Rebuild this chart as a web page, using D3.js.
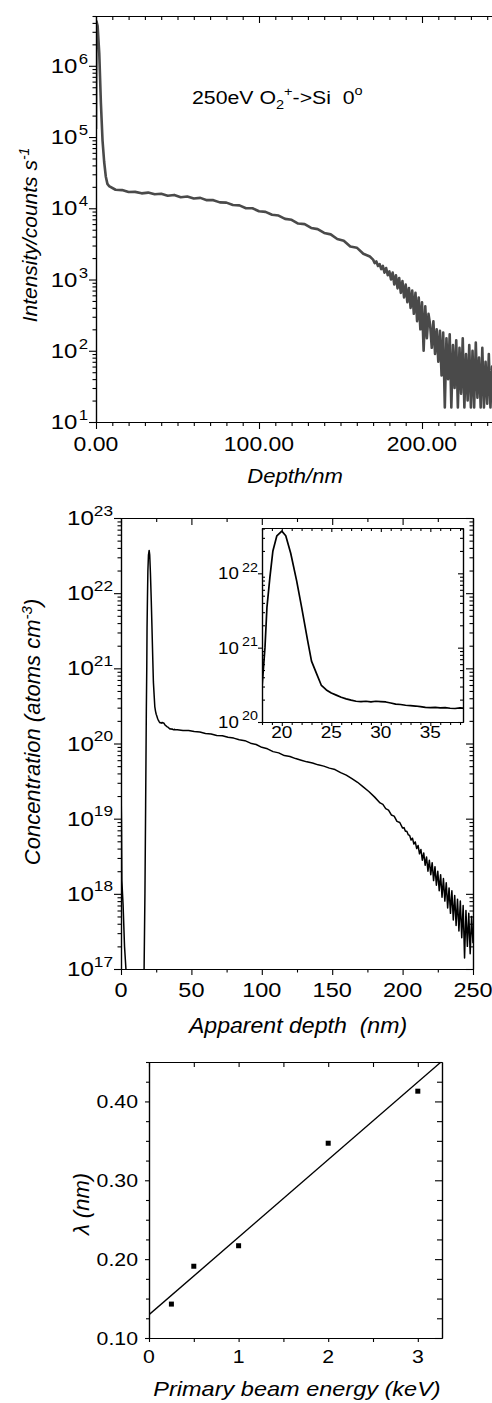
<!DOCTYPE html>
<html>
<head>
<meta charset="utf-8">
<script src="https://cdn.jsdelivr.net/npm/d3@7"></script>
<style>
  body { margin: 0; background: #fff; }
  svg { display: block; }
  text { font-family: "Liberation Sans", Arial, Helvetica, sans-serif; fill: #000; white-space: pre; }
</style>
</head>
<body>
<svg width="492" height="1403"></svg>
<script>
// ---- panel 1: 250 eV O2+ -> Si, intensity vs depth ----
var depth1 = [0, 0.3, 1, 2, 3, 4, 5, 6, 7, 8, 12, 16, 20, 24, 28, 32, 36, 40, 44, 48, 52, 56, 60, 64, 68, 72, 76, 80, 84, 88, 92, 96, 100,
  104, 108, 112, 116, 120, 124, 128, 132, 136, 140, 144, 148, 152, 156, 160, 164, 168,
  170, 171, 172, 173, 174, 175, 176, 177, 178, 179, 180, 181, 182, 183, 184, 185, 186, 187, 188, 189,
  190, 191, 192, 193, 194, 195, 196, 197, 198, 199, 200, 201, 202, 203, 204, 205, 206, 207, 208, 209,
  210, 211, 212, 213, 214, 215, 216, 217, 218, 219, 220, 221, 222, 223, 224, 225, 226, 227, 228, 229,
  230, 231, 232, 233, 234, 235, 236, 237, 238, 239, 240, 241, 242, 243, 244, 245];
var counts1 = [1.3e5, 4.2e6, 3.6e6, 1.5e6, 3e5, 9e4, 4.5e4, 2.8e4, 2.2e4, 2.05e4, 1.82e4, 1.8e4, 1.69e4, 1.7e4, 1.62e4, 1.66e4, 1.57e4, 1.6e4,
  1.5e4, 1.54e4, 1.43e4, 1.46e4, 1.37e4, 1.4e4, 1.3e4, 1.3e4, 1.21e4, 1.2e4, 1.11e4, 1.1e4, 1.0e4, 1.0e4, 9.1e3,
  8.9e3, 8.1e3, 7.9e3, 7.1e3, 6.9e3, 6.1e3, 6.0e3, 5.3e3, 5.1e3, 4.5e3, 4.3e3, 3.7e3, 3.5e3, 2.9e3, 2.8e3, 2.3e3, 2.1e3,
  1900, 1700, 1800, 1550, 1650, 1400, 1550, 1250, 1450, 1150, 1300, 1000, 1250, 850, 1150, 750, 1050, 650, 950, 560,
  850, 480, 760, 400, 700, 330, 650, 260, 560, 200, 480, 100, 420, 150, 330, 230, 110, 260, 90, 200,
  70, 190, 45, 180, 16, 150, 40, 170, 16, 120, 30, 140, 16, 110, 25, 150, 16, 90, 20, 120,
  16, 100, 16, 130, 22, 80, 16, 110, 16, 70, 18, 90, 16, 60, 16, 50];
var xMinor1 = [10, 20, 30, 40, 50, 60, 70, 80, 90, 110, 120, 130, 140, 150, 160, 170, 180, 190, 210, 220, 230, 240];
var xMajor1 = [0, 100, 200];

// ---- panel 2: concentration vs apparent depth (and inset) ----
var depth2 = [0, 0.3, 0.6, 1.5, 2.5, 3.5, 4.5, 6, 14, 16, 16.4, 17, 17.5, 18, 18.3, 18.5, 18.8, 19.1, 19.5, 20, 20.4, 20.9, 21.5, 22, 22.6,
  23, 23.5, 24, 24.5, 25, 25.5, 26, 26.5, 27, 27.5, 28, 28.5, 29, 29.5, 30, 30.5, 31, 31.5, 32, 32.5, 33, 33.5, 34, 34.5,
  35, 35.5, 36, 36.5, 37, 37.5, 38, 38.5, 40, 44, 48, 52, 56, 60, 64, 68, 72, 76, 80, 84, 88, 92, 96, 100, 104, 108, 112,
  116, 120, 124, 128, 132, 136, 140, 144, 148, 152, 156, 160, 164, 168, 172, 176, 180, 184, 186, 188, 190, 192, 194, 196, 198, 200,
  201, 202, 203, 204, 205, 206, 207, 208, 209, 210, 211, 212, 213, 214, 215, 216, 217, 218, 219, 220, 221, 222, 223, 224, 225,
  226, 227, 228, 229, 230, 231, 232, 233, 234, 235, 236, 237, 238, 239, 240, 241, 242, 243, 244, 245, 246, 247, 248, 249, 250];
var conc2 = [3e19, 1e19, 1.5e18, 7e17, 2e17, 1e17, 2e16, 1e16, 1e16, 5e16, 1e17, 1e18, 1.5e19, 2.9e20, 1e21, 3.5e21, 8.9e21, 2e22, 3.2e22, 3.7e22, 3.2e22, 1.86e22, 7.9e21, 3.5e21, 1.26e21,
  6.6e20, 4.5e20, 3.1e20, 2.7e20, 2.45e20, 2.3e20, 2.15e20, 2.05e20, 1.97e20, 1.9e20, 1.88e20, 1.9e20, 1.86e20, 1.9e20, 1.88e20, 1.86e20, 1.8e20, 1.74e20, 1.72e20, 1.68e20, 1.66e20, 1.64e20, 1.61e20, 1.57e20,
  1.56e20, 1.57e20, 1.55e20, 1.56e20, 1.53e20, 1.52e20, 1.55e20, 1.52e20, 1.52e20, 1.49e20, 1.49e20, 1.44e20, 1.42e20, 1.36e20, 1.34e20, 1.28e20, 1.27e20, 1.21e20, 1.18e20, 1.12e20, 1.09e20, 1.01e20, 9.7e19, 8.9e19, 8.5e19, 7.8e19, 7.5e19,
  6.9e19, 6.7e19, 6.3e19, 6.0e19, 5.7e19, 5.5e19, 5.2e19, 5.0e19, 4.7e19, 4.5e19, 4.1e19, 3.8e19, 3.4e19, 3.05e19, 2.65e19, 2.3e19, 1.95e19, 1.62e19, 1.55e19, 1.36e19, 1.3e19, 1.12e19, 1.08e19, 9.2e18, 8.9e18, 7.5e18,
  7.6e18, 6.8e18, 6.8e18, 6.1e18, 6.0e18, 5.2e18, 5.5e18, 4.6e18, 4.9e18, 4.0e18, 4.4e18, 3.4e18, 3.9e18, 2.8e18, 3.5e18, 2.4e18, 3.1e18, 2.0e18, 2.8e18, 1.8e18, 2.6e18, 1.5e18, 2.3e18, 1.3e18, 2.0e18,
  1.1e18, 1.8e18, 9e17, 1.6e18, 8e17, 1.4e18, 6.5e17, 1.2e18, 5.5e17, 1.1e18, 4.5e17, 9.5e17, 3.8e17, 8.5e17, 3.2e17, 8e17, 2.6e17, 7e17, 1.4e17, 6e17, 2e17, 5.5e17, 1.6e17, 5e17, 2.2e17];
var xMajor2 = [0, 50, 100, 150, 200, 250];
var xMinor2 = [25, 75, 125, 175, 225];
var xMajorIn = [20, 25, 30, 35];
var xMinorIn = [18, 19, 21, 22, 23, 24, 26, 27, 28, 29, 31, 32, 33, 34, 36, 37, 38];

// ---- panel 3: lambda vs primary beam energy ----
var energy = [0.25, 0.5, 1, 2, 3];
var lambda = [0.143, 0.191, 0.217, 0.347, 0.413];
var xTicks3 = [0, 1, 2, 3];
var xMinor3 = [0.5, 1.5, 2.5];
var yTicks3 = [0.10, 0.20, 0.30, 0.40];
var yMinor3 = [0.125, 0.15, 0.175, 0.225, 0.25, 0.275, 0.325, 0.35, 0.375, 0.425, 0.45];

var svg = d3.select("svg");

// draw one row of ticks with a d3 axis (labels are drawn separately)
function tickRow(axis, values, size, tx, ty) {
  svg.append("g")
    .attr("transform", "translate(" + tx + "," + ty + ")")
    .call(axis.tickValues(values).tickSize(size).tickSizeOuter(0).tickFormat(""))
    .call(function(s) {
      s.select(".domain").attr("stroke", "#000").attr("stroke-width", 1.2);
      s.selectAll(".tick line").attr("stroke", "#000").attr("stroke-width", 1.1);
    });
}

function logSplit(scale) {
  var all = scale.ticks();
  var major = all.filter(function(d) { return Math.abs(Math.log10(d) - Math.round(Math.log10(d))) < 1e-9; });
  var minor = all.filter(function(d) { return major.indexOf(d) < 0; });
  return [major, minor];
}

function txt(x, y, size, anchor, sx, str, italic) {
  var t = svg.append("text")
    .attr("transform", "translate(" + x + "," + y + ") scale(" + sx + ",1)")
    .attr("font-size", size).attr("text-anchor", anchor);
  if (italic) t.attr("font-style", "italic");
  if (str != null) t.text(str);
  return t;
}

function powLabel(x, y, exp, size, supSize, sx, gap) {
  var t = txt(x, y, size, "end", sx);
  t.append("tspan").text("10");
  t.append("tspan").attr("font-size", supSize).attr("dx", gap || 0).attr("dy", -size * 0.45).text(exp);
}

function clip(id, x0, y0, x1, y1) {
  svg.append("clipPath").attr("id", id).append("rect")
    .attr("x", x0).attr("y", y0).attr("width", x1 - x0).attr("height", y1 - y0);
}

// =================== panel 1 ===================
var x1 = d3.scaleLinear().domain([0, 245.4]).range([96, 496]);
var y1 = d3.scaleLog().domain([10, 5e6]).range([422, 16]);
var lt1 = logSplit(y1);

clip("c1", 96, 16, 492, 422);
svg.append("path")
  .datum(depth1.map(function(d, i) { return [d, counts1[i]]; }))
  .attr("clip-path", "url(#c1)")
  .attr("fill", "none").attr("stroke", "#4a4a4a").attr("stroke-width", 2.6).attr("stroke-linejoin", "round")
  .attr("d", d3.line().x(function(d) { return x1(d[0]); }).y(function(d) { return y1(d[1]); }));

tickRow(d3.axisLeft(y1), lt1[0], 7, 96, 0);
tickRow(d3.axisLeft(y1), lt1[1], 3.5, 96, 0);
tickRow(d3.axisBottom(x1), xMajor1, 7, 0, 422);
tickRow(d3.axisBottom(x1), xMinor1, 4, 0, 422);
tickRow(d3.axisTop(x1), xMajor1, -7, 0, 16);
tickRow(d3.axisTop(x1), xMinor1, -4, 0, 16);

lt1[0].forEach(function(v) {
  powLabel(88, y1(v) + 7, Math.round(Math.log10(v)), 20, 14, 1.2, 1);
});
xMajor1.forEach(function(v) {
  txt(x1(v), 451, 20, "middle", 1.15, d3.format(".2f")(v));
});
txt(295, 483, 21, "middle", 1.05, "Depth/nm", true);
var yt1 = svg.append("text").attr("transform", "translate(37,235) rotate(-90)")
  .attr("font-size", 21).attr("font-style", "italic").attr("text-anchor", "middle");
yt1.append("tspan").text("Intensity/counts s");
yt1.append("tspan").attr("font-size", 14).attr("dy", -8).text("-1");

var ann = txt(192, 104, 19, "start", 1.12);
ann.append("tspan").text("250eV O");
ann.append("tspan").attr("font-size", 13).attr("dy", 5).text("2");
ann.append("tspan").attr("font-size", 13).attr("dy", -13).text("+");
ann.append("tspan").attr("dy", 8).text("->Si  0");
ann.append("tspan").attr("font-size", 13).attr("dy", -9).text("o");

// =================== panel 2 ===================
var x2 = d3.scaleLinear().domain([0, 250]).range([121, 473]);
var y2 = d3.scaleLog().domain([1e17, 1e23]).range([969, 518]);
var lt2 = logSplit(y2);

clip("c2", 121, 518, 473, 969);
svg.append("path")
  .datum(depth2.map(function(d, i) { return [d, conc2[i]]; }))
  .attr("clip-path", "url(#c2)")
  .attr("fill", "none").attr("stroke", "#000").attr("stroke-width", 1.5).attr("stroke-linejoin", "round")
  .attr("d", d3.line().x(function(d) { return x2(d[0]); }).y(function(d) { return y2(d[1]); }));

tickRow(d3.axisLeft(y2), lt2[0], 7, 121, 0);
tickRow(d3.axisLeft(y2), lt2[1], 3.5, 121, 0);
tickRow(d3.axisRight(y2), lt2[0], -7, 473, 0);
tickRow(d3.axisRight(y2), lt2[1], -3.5, 473, 0);
tickRow(d3.axisBottom(x2), xMajor2, 6, 0, 969);
tickRow(d3.axisBottom(x2), xMinor2, 3.5, 0, 969);
tickRow(d3.axisTop(x2), xMajor2, -7, 0, 518);
tickRow(d3.axisTop(x2), xMinor2, -4, 0, 518);

lt2[0].forEach(function(v) {
  powLabel(113, y2(v) + 7, Math.round(Math.log10(v)), 21, 15, 1.15, 0);
});
xMajor2.forEach(function(v) {
  txt(x2(v), 997, 21, "middle", 1.12, String(v));
});
txt(298, 1033, 22, "middle", 1.05, "Apparent depth  (nm)", true);
var yt2 = svg.append("text").attr("transform", "translate(40,732) rotate(-90)")
  .attr("font-size", 22).attr("font-style", "italic").attr("text-anchor", "middle");
yt2.append("tspan").text("Concentration (atoms cm");
yt2.append("tspan").attr("font-size", 15).attr("dy", -8).text("-3");
yt2.append("tspan").attr("dy", 8).text(")");

// ---- inset ----
var xi = d3.scaleLinear().domain([18, 38.3]).range([262, 463]);
var yi = d3.scaleLog().domain([1e20, 4.07e22]).range([722, 528]);
var lti = logSplit(yi);

svg.append("rect").attr("x", 262).attr("y", 528).attr("width", 201).attr("height", 194).attr("fill", "#fff");
clip("ci", 262, 528, 463, 722);
svg.append("path")
  .datum(depth2.map(function(d, i) { return [d, conc2[i]]; }).filter(function(d) { return d[0] >= 17 && d[0] <= 39; }))
  .attr("clip-path", "url(#ci)")
  .attr("fill", "none").attr("stroke", "#000").attr("stroke-width", 1.7).attr("stroke-linejoin", "round")
  .attr("d", d3.line().x(function(d) { return xi(d[0]); }).y(function(d) { return yi(d[1]); }));

tickRow(d3.axisLeft(yi), lti[0], 4, 262, 0);
tickRow(d3.axisLeft(yi), lti[1], -3, 262, 0);
tickRow(d3.axisRight(yi), lti[0], -5, 463, 0);
tickRow(d3.axisRight(yi), lti[1], -3, 463, 0);
tickRow(d3.axisBottom(xi), xMajorIn, 4, 0, 722);
tickRow(d3.axisBottom(xi), xMinorIn, 3, 0, 722);
tickRow(d3.axisTop(xi), xMajorIn, -4, 0, 528);
tickRow(d3.axisTop(xi), xMinorIn, -3, 0, 528);

lti[0].forEach(function(v) {
  powLabel(258, yi(v) + 6, Math.round(Math.log10(v)), 17, 13, 1.1, 3);
});
xMajorIn.forEach(function(v) {
  txt(xi(v), 738, 17, "middle", 1.12, String(v));
});

// =================== panel 3 ===================
var x3 = d3.scaleLinear().domain([0, 3.27]).range([149, 442]);
var y3 = d3.scaleLinear().domain([0.10, 0.45]).range([1338, 1062]);

// least-squares fit through the measured points
var mx = d3.mean(energy), my = d3.mean(lambda);
var slope = d3.sum(energy, function(e, i) { return (e - mx) * (lambda[i] - my); }) /
            d3.sum(energy, function(e) { return (e - mx) * (e - mx); });
var icpt = my - slope * mx;

clip("c3", 149, 1062, 442, 1338);
svg.append("line").attr("clip-path", "url(#c3)")
  .attr("x1", x3(0)).attr("y1", y3(icpt))
  .attr("x2", x3(3.27)).attr("y2", y3(icpt + slope * 3.27))
  .attr("stroke", "#000").attr("stroke-width", 1.4);

svg.selectAll(".pt").data(energy).enter().append("rect")
  .attr("class", "pt")
  .attr("x", function(d) { return x3(d) - 2.5; })
  .attr("y", function(d, i) { return y3(lambda[i]) - 2.5; })
  .attr("width", 5).attr("height", 5).attr("fill", "#000");

tickRow(d3.axisLeft(y3), yTicks3, 4, 149, 0);
tickRow(d3.axisLeft(y3), yMinor3, 3, 149, 0);
tickRow(d3.axisRight(y3), yTicks3, -7, 442, 0);
tickRow(d3.axisRight(y3), yMinor3, -5, 442, 0);
tickRow(d3.axisBottom(x3), xTicks3.concat(xMinor3), 4, 0, 1338);
tickRow(d3.axisTop(x3), xTicks3.concat(xMinor3), -5, 0, 1062);

yTicks3.forEach(function(v) {
  txt(138, y3(v) + 7, 19, "end", 1.12, d3.format(".2f")(v));
});
xTicks3.forEach(function(v) {
  txt(x3(v), 1363, 19, "middle", 1.12, String(v));
});
txt(297, 1396, 21, "middle", 1.12, "Primary beam energy (keV)", true);
svg.append("text").attr("transform", "translate(89,1204) rotate(-90)")
  .attr("font-size", 22).attr("font-style", "italic").attr("text-anchor", "middle")
  .text("\u03bb (nm)");
</script>
</body>
</html>
